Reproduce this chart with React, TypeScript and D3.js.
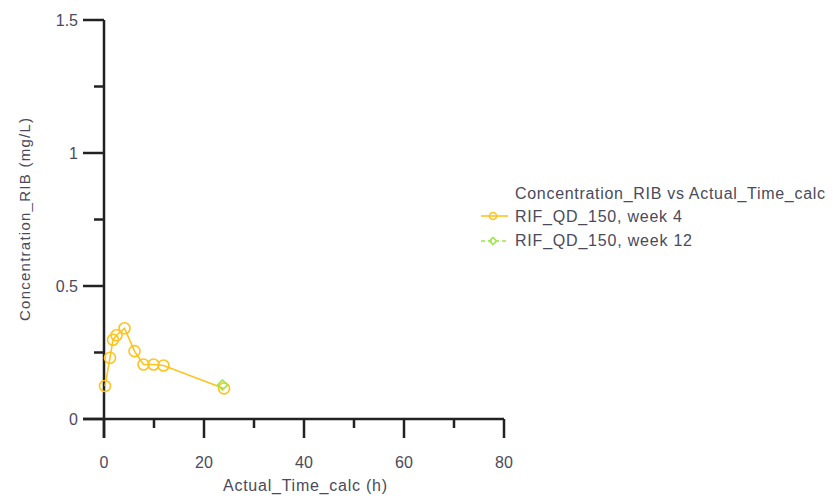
import React from "react";
import * as d3 from "d3";

const week4Time = [0.2, 1.2, 1.8, 2.5, 4.1, 6.1, 7.9, 9.9, 11.9, 24.0];
const week4Conc = [0.124, 0.23, 0.298, 0.315, 0.341, 0.255, 0.205, 0.205, 0.201, 0.115];
const week12Time = [23.7];
const week12Conc = [0.128];

const xTicks = [0, 20, 40, 60, 80];
const xMinorTicks = [10, 30, 50, 70];
const yTicks = [0, 0.5, 1, 1.5];
const yMinorTicks = [0.25, 0.75, 1.25];

const legendTitle = "Concentration_RIB vs Actual_Time_calc";
const seriesNames = ["RIF_QD_150, week 4", "RIF_QD_150, week 12"];
const xTitle = "Actual_Time_calc (h)";
const yTitle = "Concentration_RIB (mg/L)";

const W = 833;
const H = 502;
const orange = "#FFC31F";
const green = "#9BE84A";
const textColor = "#4a4a5c";
const axisColor = "#222";
const font = "'Liberation Sans', Arial, sans-serif";

export default function App() {
  const x = d3.scaleLinear().domain([0, 80]).range([104, 504]);
  const y = d3.scaleLinear().domain([0, 1.5]).range([419, 20]);

  const w4 = week4Time.map((t, i) => [t, week4Conc[i]] as [number, number]);
  const w12 = week12Time.map((t, i) => [t, week12Conc[i]] as [number, number]);
  const line = d3
    .line<[number, number]>()
    .x((d) => x(d[0]))
    .y((d) => y(d[1]));

  const diamond = (cx: number, cy: number, r: number) =>
    `M${cx},${cy - r}L${cx + r},${cy}L${cx},${cy + r}L${cx - r},${cy}Z`;

  return (
    <svg
      width={W}
      height={H}
      style={{ position: "absolute", left: 0, top: 0, background: "#fff" }}
      fontFamily={font}
    >
      <rect width={W} height={H} fill="#fff" />

      {/* y axis */}
      <line x1={x(0)} x2={x(0)} y1={y(1.5)} y2={y(0) + 19} stroke={axisColor} strokeWidth={2.5} />
      {yTicks.map((t) => (
        <g key={"yt" + t}>
          <line x1={x(0) - 21} x2={x(0)} y1={y(t)} y2={y(t)} stroke={axisColor} strokeWidth={2.5} />
          <text
            x={x(0) - 26}
            y={y(t)}
            textAnchor="end"
            dominantBaseline="central"
            fontSize={16}
            fill={textColor}
          >
            {t}
          </text>
        </g>
      ))}
      {yMinorTicks.map((t) => (
        <line key={"ym" + t} x1={x(0) - 10} x2={x(0)} y1={y(t)} y2={y(t)} stroke={axisColor} strokeWidth={2.5} />
      ))}

      {/* x axis */}
      <line x1={x(0) - 21} x2={x(80)} y1={y(0)} y2={y(0)} stroke={axisColor} strokeWidth={2.5} />
      {xTicks.map((t) => (
        <g key={"xt" + t}>
          <line x1={x(t)} x2={x(t)} y1={y(0)} y2={y(0) + 19} stroke={axisColor} strokeWidth={2.5} />
          <text
            x={x(t)}
            y={y(0) + 43}
            textAnchor="middle"
            dominantBaseline="central"
            fontSize={16}
            fill={textColor}
          >
            {t}
          </text>
        </g>
      ))}
      {xMinorTicks.map((t) => (
        <line key={"xm" + t} x1={x(t)} x2={x(t)} y1={y(0)} y2={y(0) + 9} stroke={axisColor} strokeWidth={2.5} />
      ))}

      {/* axis titles */}
      <text
        x={(x(0) + x(80)) / 2 + 1}
        y={485}
        textAnchor="middle"
        dominantBaseline="central"
        fontSize={16}
        textLength={164}
        fill={textColor}
      >
        {xTitle}
      </text>
      <text
        transform={`translate(24,${(y(0) + y(1.5)) / 2}) rotate(-90)`}
        textAnchor="middle"
        dominantBaseline="central"
        fontSize={15}
        textLength={203}
        fill={textColor}
      >
        {yTitle}
      </text>

      {/* week 4 series */}
      <path d={line(w4) ?? ""} fill="none" stroke={orange} strokeWidth={1.6} />
      {w4.map((d, i) => (
        <circle key={"c" + i} cx={x(d[0])} cy={y(d[1])} r={5.5} fill="none" stroke={orange} strokeWidth={1.6} />
      ))}

      {/* week 12 series */}
      <path d={line(w12) ?? ""} fill="none" stroke={green} strokeWidth={1.6} strokeDasharray="4,3" />
      {w12.map((d, i) => (
        <path key={"d" + i} d={diamond(x(d[0]), y(d[1]), 5)} fill="none" stroke={green} strokeWidth={1.6} />
      ))}

      {/* legend */}
      <text x={515} y={193} dominantBaseline="central" fontSize={16} textLength={310} fill={textColor}>
        {legendTitle}
      </text>
      <line x1={481} x2={508} y1={216} y2={216} stroke={orange} strokeWidth={1.6} />
      <circle cx={493} cy={216} r={3.5} fill="none" stroke={orange} strokeWidth={1.6} />
      <text x={515} y={216} dominantBaseline="central" fontSize={16} textLength={167} fill={textColor}>
        {seriesNames[0]}
      </text>
      <line x1={481} x2={508} y1={241} y2={241} stroke={green} strokeWidth={1.6} strokeDasharray="4,3" />
      <path d={diamond(493, 241, 3.5)} fill="none" stroke={green} strokeWidth={1.6} />
      <text x={515} y={240} dominantBaseline="central" fontSize={16} textLength={177} fill={textColor}>
        {seriesNames[1]}
      </text>
    </svg>
  );
}
